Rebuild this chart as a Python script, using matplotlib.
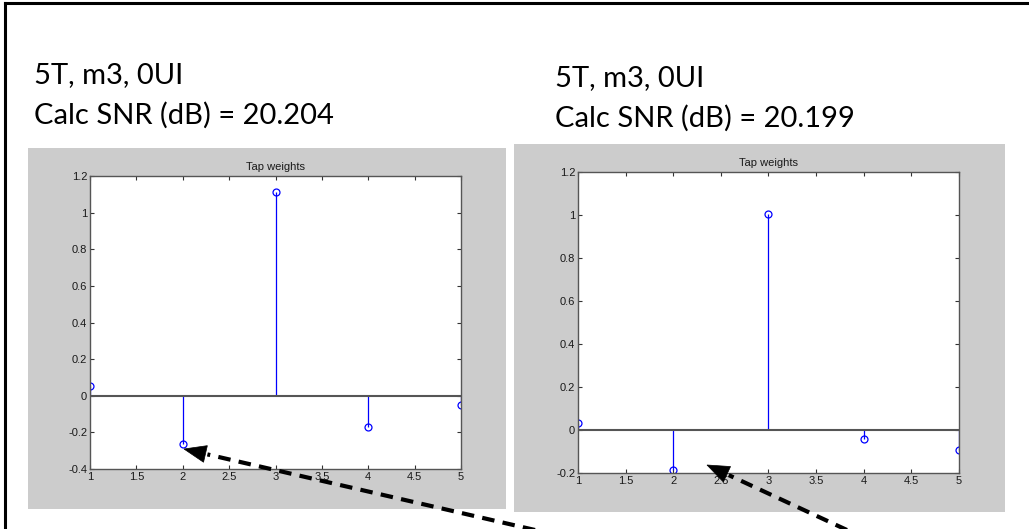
import numpy as np
import matplotlib
matplotlib.use("Agg")
import matplotlib.pyplot as plt
from matplotlib.patches import Rectangle, Polygon
from matplotlib.lines import Line2D

W, H = 1029, 529

# tap weights
taps = [1, 2, 3, 4, 5]
weights_left = [0.051, -0.262, 1.111, -0.172, -0.052]
weights_right = [0.031, -0.184, 1.003, -0.042, -0.095]

labels_left = ["5T, m3, 0UI", "Calc SNR (dB) = 20.204"]
labels_right = ["5T, m3, 0UI", "Calc SNR (dB) = 20.199"]

ylim_left = (-0.4, 1.2)
ylim_right = (-0.2, 1.2)


def px_box(x0, y0, x1, y1):
    # pixel box (top-left origin) -> figure fraction [l, b, w, h]
    return [x0 / W, 1 - y1 / H, (x1 - x0) / W, (y1 - y0) / H]


def px(x, y):
    return (x / W, 1 - y / H)


fig = plt.figure(figsize=(W / 100, H / 100), dpi=100)
fig.patch.set_facecolor("white")

# slide border (top and left edges visible)
fig.add_artist(Line2D([5 / W, 5 / W], [0, 1 - 3 / H], transform=fig.transFigure,
                      color="black", lw=2.2))
fig.add_artist(Line2D([5 / W, 1], [1 - 3 / H, 1 - 3 / H], transform=fig.transFigure,
                      color="black", lw=2.2))

# gray matlab figure backgrounds
for box in [(28, 148, 506, 509), (514, 144, 1005, 512)]:
    l, b, w, h = px_box(*box)
    fig.add_artist(Rectangle((l, b), w, h, transform=fig.transFigure,
                             facecolor="#cccccc", edgecolor="none", zorder=0))


def tap_plot(box, weights, ylim):
    ax = fig.add_axes(px_box(*box))
    ax.set_facecolor("white")
    ml, sl, bl = ax.stem(taps, weights, linefmt="b-", markerfmt="o", basefmt="-")
    ml.set_markerfacecolor("none")
    ml.set_markeredgecolor("blue")
    ml.set_markersize(5)
    ml.set_markeredgewidth(0.9)
    sl.set_linewidth(0.9)
    sl.set_color("blue")
    bl.set_color("#555555")
    bl.set_linewidth(1.5)
    ax.set_xlim(1, 5)
    ax.set_ylim(*ylim)
    ax.set_xticks(np.arange(1, 5.01, 0.5))
    ax.set_xticklabels(["1", "1.5", "2", "2.5", "3", "3.5", "4", "4.5", "5"])
    yt = np.round(np.arange(ylim[0], ylim[1] + 0.001, 0.2), 1)
    ax.set_yticks(yt)
    ax.set_yticklabels([f"{v:g}" if v != 0 else "0" for v in yt])
    ax.tick_params(direction="in", top=True, right=True, length=3, width=0.8,
                   labelsize=8, color="#333333", labelcolor="#1a1a1a", pad=2)
    for lab in ax.get_xticklabels() + ax.get_yticklabels():
        lab.set_family("Liberation Sans")
    for s in ax.spines.values():
        s.set_color("#555555")
        s.set_linewidth(1.0)
    ax.set_title("Tap weights", fontsize=8, family="Liberation Sans", pad=4,
                 color="#1a1a1a")
    return ax


ax1 = tap_plot((90, 176, 461, 469), weights_left, ylim_left)
ax2 = tap_plot((578, 172, 959, 473), weights_right, ylim_right)

# slide captions
for (x, ys), lines in [((34, (75, 115)), labels_left), ((555, (78, 118)), labels_right)]:
    for y, t in zip(ys, lines):
        fig.text(x / W, 1 - y / H, t, fontsize=21, family="Lato",
                 ha="left", va="center", color="black")


def callout(tail, tip, head_len=22, head_w=17):
    # dashed shaft with a solid triangular head, in pixel coords
    tail = np.array(tail, float)
    tip = np.array(tip, float)
    u = (tail - tip) / np.hypot(*(tail - tip))
    n = np.array([-u[1], u[0]])
    base = tip + u * head_len
    fig.add_artist(Line2D([tail[0] / W, (base[0] - u[0] * -2) / W],
                          [1 - tail[1] / H, 1 - (base[1] - u[1] * -2) / H],
                          transform=fig.transFigure, color="black", lw=3,
                          linestyle=(0, (3, 2)), solid_capstyle="butt",
                          dash_capstyle="butt"))
    pts = [px(*tip), px(*(base + n * head_w / 2)), px(*(base - n * head_w / 2))]
    fig.add_artist(Polygon(pts, closed=True, transform=fig.transFigure,
                           facecolor="black", edgecolor="black", lw=0.5))


callout((548, 533), (184, 449))
callout((862, 537), (707, 465))

fig.savefig("out.png", dpi=100)
